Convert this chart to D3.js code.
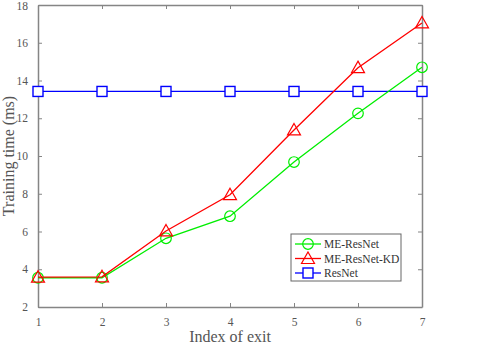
<!DOCTYPE html>
<html>
<head>
<meta charset="utf-8">
<script src="https://cdn.jsdelivr.net/npm/d3@7"></script>
<style>
  body { margin: 0; background: #fff; }
  svg text { font-family: "Liberation Serif", "Times New Roman", serif !important; }
</style>
</head>
<body>
<div id="chart"></div>
<script>
// exit indices
const exits = [1, 2, 3, 4, 5, 6, 7];
const meResNet = [3.55, 3.55, 5.64, 6.81, 9.68, 12.26, 14.70];
const meResNetKD = [3.58, 3.60, 6.03, 7.95, 11.38, 14.68, 17.05];
const resNet = [13.42, 13.42, 13.42, 13.42, 13.42, 13.42, 13.42];
const yTicks = [2, 4, 6, 8, 10, 12, 14, 16, 18];

const w = 485, h = 350;
const plotL = 38, plotR = 422, plotT = 5, plotB = 307;

const svg = d3.select('#chart').append('svg')
  .attr('width', w)
  .attr('height', h);

const x = d3.scaleLinear().domain([1, 7]).range([plotL, plotR]);
const y = d3.scaleLinear().domain([2, 18]).range([plotB, plotT]);

const axisColor = '#858585';
const textColor = '#555';

// axes, ticks pointing inward
function styleAxis(g) {
  g.attr('font-family', null);
  g.select('.domain').attr('stroke', axisColor).attr('stroke-width', 1.5);
  g.selectAll('.tick line').attr('stroke', axisColor);
  g.selectAll('.tick text').attr('fill', textColor).attr('font-size', 11.5);
}

svg.append('g').attr('transform', `translate(0,${plotB})`)
  .call(d3.axisBottom(x).tickValues(exits).tickFormat(d3.format('d')).tickSize(-4).tickPadding(11).tickSizeOuter(0))
  .call(styleAxis);
svg.append('g').attr('transform', `translate(0,${plotT})`)
  .call(d3.axisTop(x).tickValues(exits).tickSize(-4).tickFormat('').tickSizeOuter(0))
  .call(styleAxis);
const yAxisG = svg.append('g').attr('transform', `translate(${plotL},0)`)
  .call(d3.axisLeft(y).tickValues(yTicks).tickSize(-4).tickPadding(10).tickSizeOuter(0))
  .call(styleAxis);
// keep the top label inside the window
yAxisG.selectAll('.tick text').filter(function(d) { return d === 18; }).attr('dy', '0.4em');
svg.append('g').attr('transform', `translate(${plotR},0)`)
  .call(d3.axisRight(y).tickValues(yTicks).tickSize(-4).tickFormat('').tickSizeOuter(0))
  .call(styleAxis);

// axis labels
svg.append('text')
  .attr('x', (plotL + plotR) / 2).attr('y', 342)
  .attr('text-anchor', 'middle')
  .attr('fill', textColor).attr('font-size', 16)
  .text('Index of exit');
svg.append('text')
  .attr('transform', `translate(14,${(plotT + plotB) / 2}) rotate(-90)`)
  .attr('text-anchor', 'middle')
  .attr('fill', textColor).attr('font-size', 16)
  .text('Training time (ms)');

const series = [
  { name: 'ME-ResNet', values: meResNet, color: '#00ee00', shape: 'circle' },
  { name: 'ME-ResNet-KD', values: meResNetKD, color: '#ff0000', shape: 'triangle' },
  { name: 'ResNet', values: resNet, color: '#0000ff', shape: 'square' }
];

const line = d3.line().x(function(d, i) { return x(exits[i]); }).y(function(d) { return y(d); });

function marker(g, shape, color, cx, cy) {
  if (shape === 'circle') {
    g.append('circle').attr('cx', cx).attr('cy', cy).attr('r', 5.3)
      .attr('fill', 'none').attr('stroke', color).attr('stroke-width', 1.2);
  } else if (shape === 'triangle') {
    g.append('path')
      .attr('d', `M${cx},${cy - 6.5}L${cx + 6.5},${cy + 5}L${cx - 6.5},${cy + 5}Z`)
      .attr('fill', 'none').attr('stroke', color).attr('stroke-width', 1.2);
  } else {
    g.append('rect').attr('x', cx - 5).attr('y', cy - 5).attr('width', 10).attr('height', 10)
      .attr('fill', '#fff').attr('stroke', color).attr('stroke-width', 1.4);
  }
}

// draw ResNet first so the others sit on top, like the picture
[series[2], series[0], series[1]].forEach(function(s) {
  svg.append('path')
    .datum(s.values)
    .attr('d', line)
    .attr('fill', 'none')
    .attr('stroke', s.color)
    .attr('stroke-width', 1.3);
  const g = svg.append('g');
  s.values.forEach(function(v, i) {
    marker(g, s.shape, s.color, x(exits[i]), y(v));
  });
});

// legend
const lg = svg.append('g').attr('transform', 'translate(291,234)');
lg.append('rect').attr('width', 110).attr('height', 47)
  .attr('fill', '#fff').attr('stroke', '#666').attr('stroke-width', 1);
series.forEach(function(s, i) {
  const cy = 10 + i * 14.5;
  lg.append('line').attr('x1', 4).attr('x2', 30).attr('y1', cy).attr('y2', cy)
    .attr('stroke', s.color).attr('stroke-width', 1.3);
  marker(lg, s.shape, s.color, 17, cy);
  lg.append('text').attr('x', 33).attr('y', cy + 4)
    .attr('font-size', 11.5).attr('fill', '#333')
    .text(s.name);
});
</script>
</body>
</html>
